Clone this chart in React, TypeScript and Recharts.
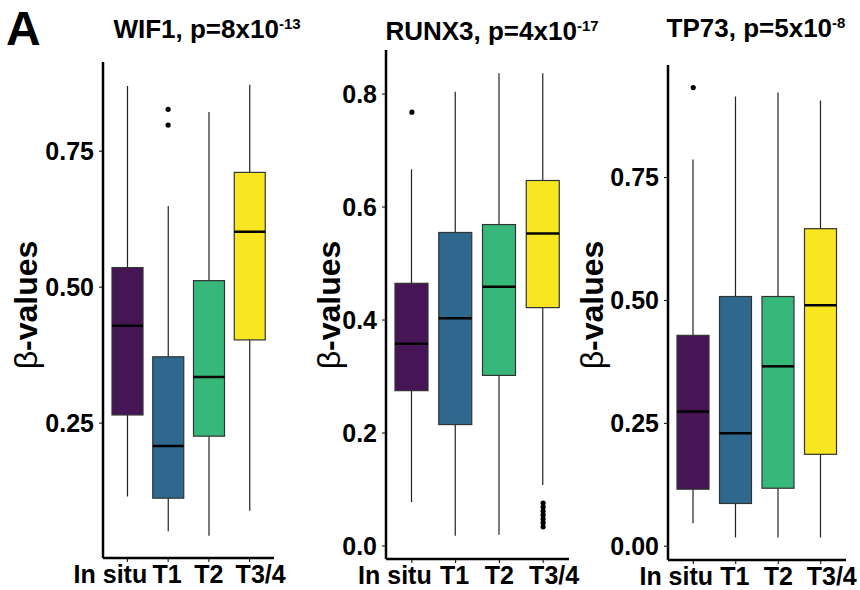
import React from 'react'
import { ComposedChart, Bar, Scatter, XAxis, YAxis } from 'recharts'

const groups = ['In situ', 'T1', 'T2', 'T3/4']
const colors = ['#461556', '#2F688E', '#35B87A', '#F8E621']
// the category labels sit a little off their boxes in the original figure
const labelShift = [-17, -1, 0, 11]

// each row: [lower whisker, Q1, median, Q3, upper whisker]
const wif1Stats = [
  [0.115, 0.265, 0.429, 0.536, 0.870],
  [0.051, 0.112, 0.208, 0.372, 0.649],
  [0.043, 0.226, 0.335, 0.512, 0.822],
  [0.089, 0.403, 0.602, 0.711, 0.872],
]
const wif1Outliers: [string, number][] = [['T1', 0.798], ['T1', 0.827]]
const wif1Ticks = [0.25, 0.5, 0.75]

const runx3Stats = [
  [0.078, 0.275, 0.358, 0.465, 0.667],
  [0.018, 0.215, 0.403, 0.555, 0.804],
  [0.020, 0.302, 0.459, 0.569, 0.837],
  [0.108, 0.422, 0.553, 0.647, 0.837],
]
const runx3Outliers: [string, number][] = [
  ['In situ', 0.768],
  ['T3/4', 0.034], ['T3/4', 0.041], ['T3/4', 0.048], ['T3/4', 0.055],
  ['T3/4', 0.062], ['T3/4', 0.069], ['T3/4', 0.076],
]
const runx3Ticks = [0, 0.2, 0.4, 0.6, 0.8]

const tp73Stats = [
  [0.047, 0.116, 0.274, 0.429, 0.787],
  [0.018, 0.087, 0.230, 0.508, 0.915],
  [0.018, 0.118, 0.366, 0.508, 0.923],
  [0.018, 0.187, 0.490, 0.646, 0.907],
]
const tp73Outliers: [string, number][] = [['In situ', 0.933]]
const tp73Ticks = [0, 0.25, 0.5, 0.75]

const FONT = '"Liberation Sans", Arial, Helvetica, sans-serif'

const toRows = (stats: number[][]) =>
  groups.map((g, i) => ({
    group: g,
    range: [stats[i][0], stats[i][4]],
    low: stats[i][0], q1: stats[i][1], med: stats[i][2], q3: stats[i][3], high: stats[i][4],
    color: colors[i],
  }))

function BoxShape(props: any) {
  const { x, y, width, height, payload } = props
  const top = Math.min(y, y + height)
  const bottom = Math.max(y, y + height)
  const span = payload.high - payload.low
  const py = (v: number) => bottom - ((v - payload.low) / span) * (bottom - top)
  const cx = x + width / 2
  return (
    <g>
      <line x1={cx} x2={cx} y1={top} y2={bottom} stroke="#222" strokeWidth={1.2} />
      <rect x={x} y={py(payload.q3)} width={width} height={py(payload.q1) - py(payload.q3)}
        fill={payload.color} stroke="#333" strokeWidth={1.2} />
      <line x1={x} x2={x + width} y1={py(payload.med)} y2={py(payload.med)} stroke="#000" strokeWidth={2.5} />
    </g>
  )
}

function GroupTick(props: any) {
  const { x, y, payload, index } = props
  return (
    <text x={x + (labelShift[index] || 0)} y={y} dy="0.71em" textAnchor="middle"
      fontFamily={FONT} fontWeight="bold" fontSize={25} fill="#000">
      {payload.value}
    </text>
  )
}

interface PanelProps {
  stats: number[][]
  outliers: [string, number][]
  domain: [number, number]
  ticks: number[]
  digits: number
  left: number
  width: number
  margin: { top: number; right: number; bottom: number; left: number }
  boxWidth: number
}

function Panel({ stats, outliers, domain, ticks, digits, left, width, margin, boxWidth }: PanelProps) {
  const rows = toRows(stats)
  const pts = outliers.map(([g, v]) => ({ group: g, value: v }))
  return (
    <div style={{ position: 'absolute', left, top: 0 }}>
      <ComposedChart width={width} height={590} data={rows} margin={margin}>
        <XAxis dataKey="group" type="category" allowDuplicatedCategory={false} interval={0}
          padding={{ left: 4, right: 4 }} height={30}
          tick={<GroupTick />} tickSize={4} tickMargin={3}
          axisLine={{ stroke: '#000', strokeWidth: 2.5 }} tickLine={{ stroke: '#000' }} />
        <YAxis type="number" domain={domain} ticks={ticks} allowDataOverflow width={60} interval={0}
          tickFormatter={(v: number) => v.toFixed(digits)}
          tick={{ fontSize: 25, fontWeight: 'bold', fill: '#000', fontFamily: FONT }} tickSize={4} tickMargin={5}
          axisLine={{ stroke: '#000', strokeWidth: 2.5 }} tickLine={{ stroke: '#000' }} />
        <Bar dataKey="range" barSize={boxWidth} shape={BoxShape} isAnimationActive={false} />
        <Scatter data={pts} dataKey="value" fill="#000" isAnimationActive={false}
          shape={(p: any) => <circle cx={p.cx} cy={p.cy} r={2.6} fill="#000" />} />
      </ComposedChart>
    </div>
  )
}

function Title({ cx, y, name, exp }: { cx: number; y: number; name: string; exp: string }) {
  return (
    <text x={cx} y={y} textAnchor="middle" fontFamily={FONT} fontWeight="bold" fontSize={26} fill="#000">
      {name}
      <tspan fontSize={15} dy={-9}>{exp}</tspan>
    </text>
  )
}

function YLabel({ x, y }: { x: number; y: number }) {
  return (
    <text transform={`translate(${x},${y}) rotate(-90)`} textAnchor="middle" fontFamily={FONT} fontSize={32} fill="#000">
      <tspan fontWeight="normal">β</tspan>
      <tspan fontWeight="bold">-values</tspan>
    </text>
  )
}

export default function App() {
  return (
    <div style={{ position: 'absolute', left: 0, top: 0, width: 860, height: 590, background: '#fff', overflow: 'hidden' }}>
      <Panel stats={wif1Stats} outliers={wif1Outliers} domain={[0.002, 0.914]} ticks={wif1Ticks} digits={2}
        left={0} width={290} margin={{ top: 62, right: 16, bottom: 2, left: 43 }} boxWidth={31} />
      <Panel stats={runx3Stats} outliers={runx3Outliers} domain={[-0.023, 0.878]} ticks={runx3Ticks} digits={1}
        left={290} width={290} margin={{ top: 50, right: 11, bottom: 1, left: 36 }} boxWidth={33} />
      <Panel stats={tp73Stats} outliers={tp73Outliers} domain={[-0.028, 0.979]} ticks={tp73Ticks} digits={2}
        left={575} width={285} margin={{ top: 65, right: 14, bottom: 0, left: 33 }} boxWidth={32} />
      <svg width={860} height={590} style={{ position: 'absolute', left: 0, top: 0, pointerEvents: 'none' }}>
        <text x={6} y={45} fontFamily={FONT} fontWeight="bold" fontSize={48} fill="#000">A</text>
        <Title cx={207} y={38} name="WIF1, p=8x10" exp="-13" />
        <Title cx={492} y={40} name="RUNX3, p=4x10" exp="-17" />
        <Title cx={756} y={37} name="TP73, p=5x10" exp="-8" />
        <YLabel x={37} y={305} />
        <YLabel x={340} y={305} />
        <YLabel x={603} y={305} />
      </svg>
    </div>
  )
}
